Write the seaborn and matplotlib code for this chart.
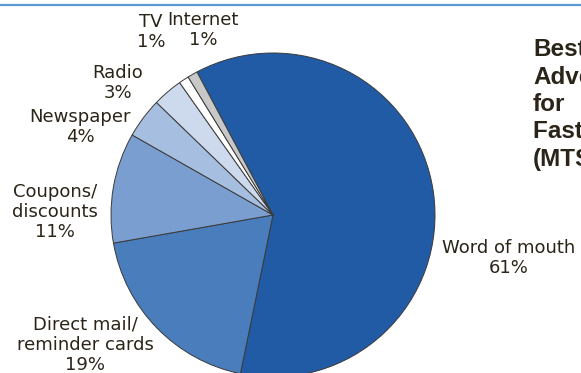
import matplotlib
matplotlib.use("Agg")
import matplotlib.pyplot as plt
import seaborn as sns

# Survey shares of the best advertising methods
categories = ["Word of mouth", "Direct mail/\nreminder cards", "Coupons/\ndiscounts",
              "Newspaper", "Radio", "TV", "Internet"]
shares = [61, 19, 11, 4, 3, 1, 1]
slice_colors = ["#225ba5", "#4a7dbb", "#7a9ecf", "#a6bedf", "#cddaed", "#ffffff", "#c8c8c8"]
heading_lines = ["Best", "Advertising", "for", "Fast Lube", "(MTS)"]

sns.set_theme(style="white")
plt.rcParams["font.family"] = ["DejaVu Sans"]

W, H = 581, 373
fig = plt.figure(figsize=(W / 100, H / 100), dpi=100)
ax = fig.add_axes([0, 0, 1, 1])

cx, cy, r = 273, H - 215, 162
palette = sns.color_palette(slice_colors)
wedges, _ = ax.pie(shares, colors=palette, startangle=118, counterclock=False,
                   center=(cx, cy), radius=r, frame=True,
                   wedgeprops=dict(edgecolor="#3a3a3a", linewidth=0.7))
ax.set_xlim(0, W)
ax.set_ylim(0, H)
ax.set_aspect("equal")
ax.axis("off")

# label anchors (pixel positions of the text block centres)
label_pos = {
    "Word of mouth": (509, 258),
    "Direct mail/\nreminder cards": (85, 345),
    "Coupons/\ndiscounts": (55, 212),
    "Newspaper": (80, 127),
    "Radio": (118, 83),
    "TV": (151, 32),
    "Internet": (203, 30),
}
txt_color = "#2b2418"
for name, val in zip(categories, shares):
    x, y = label_pos[name]
    ax.text(x, H - y, f"{name}\n{val}%", ha="center", va="center",
            fontsize=13, color=txt_color, linespacing=1.15)

# heading on the right
for i, line in enumerate(heading_lines):
    ax.text(533, H - (50 + 27.3 * i), line, ha="left", va="center",
            fontsize=17.5, fontweight="bold", color=txt_color,
            family=["Liberation Sans", "DejaVu Sans"])

# rule along the top
ax.plot([0, W], [H - 4.5, H - 4.5], color="#5b9bd5", linewidth=1.6, clip_on=False)

fig.savefig("out.png", dpi=100)
